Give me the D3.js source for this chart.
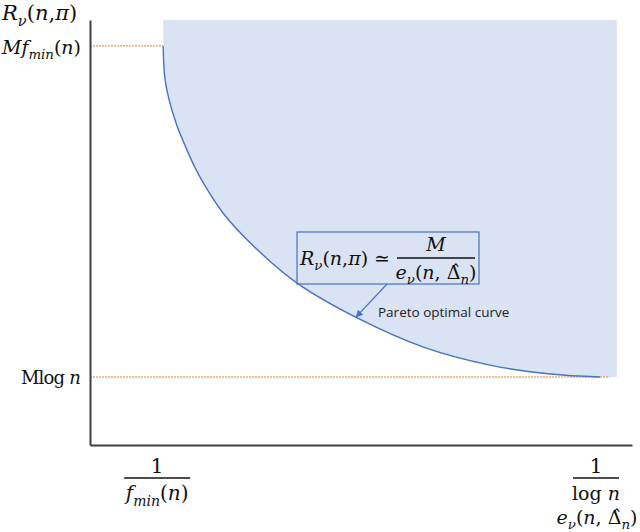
<!DOCTYPE html>
<html>
<head>
<meta charset="utf-8">
<script src="https://cdn.jsdelivr.net/npm/d3@7"></script>
<style>
  body { margin: 0; background: #fff; }
  svg { display: block; }
</style>
</head>
<body>
<div id="chart"></div>
<script>
// pareto curve (arbitrary 0-100 units on both axes)
const curveE = [13.5, 13.8, 14.6, 16.0, 17.9, 19.4, 21.4, 24.9, 31.0, 38.2, 49.3, 61.4, 73.8, 84.9, 94.1]
const curveR = [93.9, 86.5, 81.2, 75.3, 69.4, 65.2, 60.6, 54.0, 45.8, 38.1, 29.9, 23.1, 18.8, 16.7, 16.0]
const regionEnd = 97.2 // shaded area stops here
const levels = [93.9, 16.0] // M f_min(n), M log n
const levelEnds = [13.5, 95.9]

const width = 640
const height = 532
const margin = [20, 8, 87, 90] // top right bottom left

const xs = d3.scaleLinear().domain([0, 100]).range([margin[3], width - margin[1]])
const ys = d3.scaleLinear().domain([0, 100]).range([height - margin[2], margin[0]])

const pts = curveE.map((e, i) => ({ e, r: curveR[i] }))

const svg = d3
  .select("#chart")
  .append("svg")
  .attr("width", width)
  .attr("height", height)
  .attr("viewBox", [0, 0, width, height])

const blue = "#4472c4"
const orange = "#ed7d31"
const mathFont = "'DejaVu Serif', serif"

// shaded feasible region
const area = d3
  .area()
  .curve(d3.curveCatmullRom.alpha(0.5))
  .x(d => xs(d.e))
  .y0(d => ys(d.r))
  .y1(ys(100))
svg
  .append("path")
  .attr("fill", "#dae3f3")
  .attr("d", area(pts.concat([{ e: regionEnd, r: curveR[curveR.length - 1] }])))

// dotted level lines
svg
  .append("g")
  .selectAll("line")
  .data(levels)
  .join("line")
  .attr("x1", xs(0))
  .attr("x2", (d, i) => xs(levelEnds[i]))
  .attr("y1", d => ys(d))
  .attr("y2", d => ys(d))
  .attr("stroke", orange)
  .attr("stroke-width", 1)
  .attr("stroke-dasharray", "2,1")

// pareto curve
const line = d3
  .line()
  .curve(d3.curveCatmullRom.alpha(0.5))
  .x(d => xs(d.e))
  .y(d => ys(d.r))
svg
  .append("path")
  .attr("fill", "none")
  .attr("stroke", blue)
  .attr("stroke-width", 1.4)
  .attr("d", line(pts))

// axes (no ticks)
svg
  .append("g")
  .attr("transform", `translate(0,${ys(0)})`)
  .call(d3.axisBottom(xs).tickValues([]).tickSizeOuter(0))
  .call(g => g.select(".domain").attr("stroke", "#404040").attr("stroke-width", 2))
svg
  .append("g")
  .attr("transform", `translate(${xs(0)},0)`)
  .call(d3.axisLeft(ys).tickValues([]).tickSizeOuter(0))
  .call(g => g.select(".domain").attr("stroke", "#404040").attr("stroke-width", 2))

// math text helper: parts = [text, flags]  i = italic, s = subscript
function math(x, y, parts, anchor = "start", size = 19) {
  const t = svg
    .append("text")
    .attr("x", x)
    .attr("y", y)
    .attr("text-anchor", anchor)
    .attr("fill", "#111")
    .style("font-family", mathFont)
    .style("font-size", size + "px")
  let shift = 0
  parts.forEach(([s, f = ""]) => {
    const sub = f.includes("s") ? size * 0.28 : 0
    t.append("tspan")
      .attr("dy", sub - shift)
      .style("font-style", f.includes("i") ? "italic" : "normal")
      .style("font-size", (f.includes("s") ? size * 0.7 : size) + "px")
      .text(s)
    shift = sub
  })
  return t
}
function frac(cx, y, w) {
  svg
    .append("line")
    .attr("x1", cx - w / 2)
    .attr("x2", cx + w / 2)
    .attr("y1", y)
    .attr("y2", y)
    .attr("stroke", "#111")
    .attr("stroke-width", 1.3)
}

// y labels
math(2, 20, [["R", "i"], ["ν", "is"], ["("], ["n", "i"], [","], ["π", "i"], [")"]], "start", 21)
math(81, 54, [["M", "i"], ["f", "i"], ["min", "is"], ["("], ["n", "i"], [")"]], "end", 19)
math(80, 384, [["Mlog "], ["n", "i"]], "end", 18).attr("letter-spacing", -0.8)

// x labels
const lx = xs(curveE[0]) - 6
math(lx, 473, [["1"]], "middle", 20)
frac(lx, 478, 66)
math(lx, 500, [["f", "i"], ["min", "is"], ["("], ["n", "i"], [")"]], "middle", 20)

const rx = xs(curveE[curveE.length - 1]) - 4
math(rx, 473, [["1"]], "middle", 20)
frac(rx, 478, 46)
math(rx, 500, [["log "], ["n", "i"]], "middle")
math(rx + 1, 524, [["e", "i"], ["ν", "is"], ["("], ["n", "i"], [", "], ["Δ\u0302"], ["n", "is"], [")"]], "middle", 19)

// annotation box with formula
const box = { x: 297, y: 232, w: 182, h: 52 }
svg
  .append("rect")
  .attr("x", box.x)
  .attr("y", box.y)
  .attr("width", box.w)
  .attr("height", box.h)
  .attr("fill", "none")
  .attr("stroke", blue)
  .attr("stroke-width", 1.2)
math(box.x + 3, 265, [["R", "i"], ["ν", "is"], ["("], ["n", "i"], [","], ["π", "i"], [") ≃"]], "start", 19)
math(436, 251, [["M", "i"]], "middle", 19)
frac(436, 258, 78)
math(436, 279, [["e", "i"], ["ν", "is"], ["("], ["n", "i"], [", "], ["Δ\u0302"], ["n", "is"], [")"]], "middle", 19)

// arrow to the curve
const target = pts[10]
svg
  .append("defs")
  .append("marker")
  .attr("id", "arr")
  .attr("viewBox", "0 0 10 10")
  .attr("refX", 9)
  .attr("refY", 5)
  .attr("markerWidth", 6)
  .attr("markerHeight", 6)
  .attr("orient", "auto")
  .append("path")
  .attr("d", "M0,0L10,5L0,10z")
  .attr("fill", blue)
svg
  .append("line")
  .attr("x1", 387)
  .attr("y1", box.y + box.h)
  .attr("x2", xs(target.e) - 1)
  .attr("y2", ys(target.r) - 1)
  .attr("stroke", blue)
  .attr("stroke-width", 1.2)
  .attr("marker-end", "url(#arr)")

svg
  .append("text")
  .attr("x", 378)
  .attr("y", 317)
  .attr("fill", "#222")
  .style("font-family", "'Open Sans', sans-serif")
  .style("font-size", "13.5px")
  .text("Pareto optimal curve")
</script>
</body>
</html>
